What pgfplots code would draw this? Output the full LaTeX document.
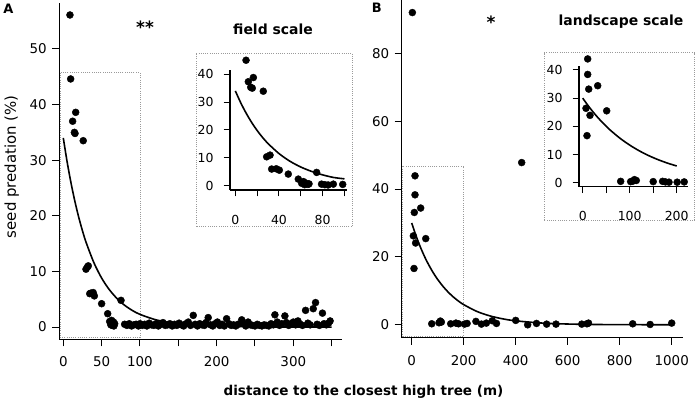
\documentclass[border=0pt]{standalone}
\usepackage{pgfplots}
\pgfplotsset{compat=1.18}
\usepackage{fontspec}
\setmainfont{DejaVu Sans}
\definecolor{dotgray}{HTML}{9A9A9A}
\pgfplotsset{
  rstyle/.style={
    scale only axis, anchor=south west, clip=false, enlargelimits=false,
    axis x line*=bottom, axis y line*=left,
    axis line style={line width=1.2bp,-},
    tick align=outside, major tick length=7bp,
    tick style={black, line width=1bp},
    /pgf/number format/assume math mode=true,
    /pgf/number format/1000 sep={},
    tick label style={font=\fontsize{13.5}{15}\selectfont},
    xticklabel style={yshift=-7bp},
    yticklabel style={xshift=-2bp},
  },
  insetstyle/.style={
    rstyle,
    tick label style={font=\fontsize{12.5}{14}\selectfont},
    major tick length=6.5bp,
    xticklabel style={yshift=-8bp},
    yticklabel style={xshift=-4.5bp},
  },
  pts/.style={only marks, mark=*, mark size=3.5bp, black, mark options={fill=black}},
  fit/.style={no marks, black, line width=1.6bp, smooth},
  dotrect/.style={no marks, dotgray, line width=0.8bp, dash pattern=on 1bp off 1.2bp},
}
\begin{document}
\begin{tikzpicture}
\path[use as bounding box] (0bp,0bp) rectangle (698bp,402bp);

% ---------------- Panel A main ----------------
\begin{axis}[rstyle, at={(59.3bp,62.7bp)}, width=282.7bp, height=336bp,
  xmin=-5.2, xmax=363.5, ymin=-2.2, ymax=58.2,
  xtick={0,50,100,150,200,250,300,350}, xticklabels={0,50,100,,200,,300,},
  ytick={0,10,20,30,40,50}]
\addplot[dotrect] coordinates {(-4.4,-1.8) (100,-1.8) (100,45.7) (-4.4,45.7) (-4.4,-1.8)};
\addplot[fit] coordinates {(0,34.0) (5,29.7) (10,25.96) (15,22.68) (20,19.81) (25,17.31) (30,15.13) (40,11.55) (50,8.81) (60,6.73) (70,5.14) (80,3.92) (90,2.99) (100,2.28) (120,1.33) (140,0.78) (160,0.45) (180,0.26) (200,0.15) (250,0.04) (300,0.01) (350,0.0)};
\addplot[pts] table {
x y
8.7 56.1
9.6 44.6
12.2 37.0
16.2 38.6
15.3 34.8
14.5 35.0
26.0 33.5
29.6 10.4
31.5 10.8
32.6 11.0
34.5 6.0
36.1 6.1
40.5 5.6
39.0 6.2
50.0 4.2
57.9 2.4
60.5 1.0
62.0 0.4
63.0 1.2
64.0 0.3
65.5 0.9
66.0 0.2
67.0 0.6
75.3 4.8
80 0.5
83 0.3
86 0.6
89 0.2
92 0.4
95 0.5
98 0.2
100 0.6
103 0.3
106 0.5
109 0.2
112 0.7
115 0.4
118 0.3
121 0.6
124 0.2
127 0.5
130 0.8
133 0.3
136 0.4
139 0.6
142 0.2
145 0.5
148 0.3
151 0.7
154 0.4
157 0.2
160 0.6
163 0.9
166 0.3
169.5 2.1
172 0.5
175 0.2
178 0.6
181 0.4
184 0.3
186 0.8
189 1.7
192 0.4
195 0.2
198 0.6
201 0.9
204 0.3
207 0.5
210 0.2
213 1.5
216 0.6
219 0.3
222 0.4
225 0.2
228 0.5
232.7 1.3
235 0.6
238 0.2
241 0.9
244 0.4
247 0.3
250 0.2
253 0.5
256 0.3
259 0.2
262 0.4
265 0.3
268 0.2
271 0.6
274 0.4
276 2.2
279 0.9
282 0.3
285 0.6
289 2.0
291 0.8
294 0.3
297 0.6
300 0.9
303 0.4
306 1.1
309 0.5
312 0.3
316 3.0
319 0.7
322 0.4
326 3.3
329 4.4
331 0.5
334 0.3
338 2.5
340 0.6
343 0.4
346 0.7
348 1.1
};
\end{axis}

% ---------------- Panel B main ----------------
\begin{axis}[rstyle, at={(401.7bp,64.5bp)}, width=281.6bp, height=337.5bp,
  xmin=-38.5, xmax=1044.6, ymin=-3.74, ymax=95.7,
  xtick={0,200,400,600,800,1000}, ytick={0,20,40,60,80}]
\addplot[dotrect] coordinates {(-35,-3.3) (200,-3.3) (200,46.8) (-35,46.8) (-35,-3.3)};
\addplot[fit] coordinates {(0,30) (10,27.67) (20,25.51) (30,23.53) (40,21.70) (50,20.01) (60,18.45) (80,15.69) (100,13.35) (120,11.35) (140,9.65) (160,8.21) (180,6.98) (200,5.94) (250,3.96) (300,2.64) (350,1.76) (400,1.17) (500,0.52) (600,0.23) (700,0.10) (800,0.05) (1000,0.01)};
\addplot[pts] table {
x y
2.5 92.0
12.7 43.9
12.7 38.3
10 33.1
34.5 34.4
6.3 26.2
15 24.1
54 25.4
8.8 16.6
423 47.8
77 0.3
105 0.6
110 1.1
114 0.8
150 0.3
170 0.5
180 0.3
203 0.2
213 0.4
247 1.0
268 0.2
287 0.5
310 1.2
326 0.4
400 1.3
446 0.0
480 0.4
519 0.2
555 0.2
654 0.2
674 0.3
680 0.5
850 0.3
917 0.1
1000 0.5
};
\end{axis}

% inset frames
\draw[dotgray, line width=0.8bp, dash pattern=on 1bp off 1.2bp] (196bp,175.3bp) rectangle (352.3bp,348.7bp);
\draw[dotgray, line width=0.8bp, dash pattern=on 1bp off 1.2bp] (544.3bp,182bp) rectangle (694.3bp,349.3bp);

% ---------------- Inset A ----------------
\begin{axis}[insetstyle, at={(230bp,212bp)}, width=117.3bp, height=120bp,
  xmin=-4.9, xmax=102.6, ymin=-1.5, ymax=41.5,
  xtick={0,20,40,60,80,100}, xticklabels={0,,40,,80,},
  ytick={0,10,20,30,40}]
\addplot[fit] coordinates {(0,34.0) (5,29.7) (10,25.96) (15,22.68) (20,19.81) (25,17.31) (30,15.13) (40,11.55) (50,8.81) (60,6.73) (70,5.14) (80,3.92) (90,2.99) (100,2.5)};
\addplot[pts] table {
x y
9.8 45.0
11.9 37.3
16.5 38.8
14.1 35.3
15.5 35.0
25.6 33.9
28.7 10.4
31.8 11.0
33.3 6.0
40.3 5.6
37.5 6.1
48.5 4.2
57.7 2.4
60.8 0.9
62.5 1.5
63.5 0.4
65 0.9
66.5 0.5
67.5 0.7
74.5 4.8
79 0.6
82 0.4
85 0.3
89.8 0.6
98.4 0.5
};
\end{axis}

% ---------------- Inset B ----------------
\begin{axis}[insetstyle, at={(579bp,215.3bp)}, width=109.3bp, height=121bp,
  xmin=-7.9, xmax=224.7, ymin=-1.4, ymax=41.5,
  xtick={0,50,100,150,200}, xticklabels={0,,100,,200},
  ytick={0,10,20,30,40}]
\addplot[fit] coordinates {(0,30) (10,27.67) (20,25.51) (30,23.53) (40,21.70) (50,20.01) (60,18.45) (80,15.69) (100,13.35) (120,11.35) (140,9.65) (160,8.21) (180,6.98) (200,5.94)};
\addplot[pts] table {
x y
10.6 43.9
10.6 38.4
12.8 33.2
31.9 34.4
7 26.4
15.5 23.9
51 25.5
9.1 16.7
80.8 0.5
102 0.4
107 0.6
110 1.1
114 0.8
150 0.4
170 0.5
176 0.3
183.6 0.2
201 0.2
216 0.3
};
\end{axis}

% texts
\node[font=\bfseries\fontsize{13}{14}\selectfont] at (8.3bp,393.7bp) {A};
\node[font=\bfseries\fontsize{13}{14}\selectfont] at (376.7bp,394.7bp) {B};
\node[font=\bfseries\fontsize{17}{17}\selectfont] at (145bp,375bp) {**};
\node[font=\bfseries\fontsize{17}{17}\selectfont] at (491bp,379.5bp) {*};
\node[font=\bfseries\fontsize{14}{15}\selectfont] at (273bp,373bp) {field scale};
\node[font=\bfseries\fontsize{14}{15}\selectfont] at (621bp,380.3bp) {landscape scale};
\node[font=\bfseries\fontsize{13.6}{15}\selectfont] at (363.5bp,10.5bp) {distance to the closest high tree (m)};
\node[rotate=90, font=\fontsize{15}{16}\selectfont] at (11.7bp,235.3bp) {seed predation (\%)};
\end{tikzpicture}
\end{document}
